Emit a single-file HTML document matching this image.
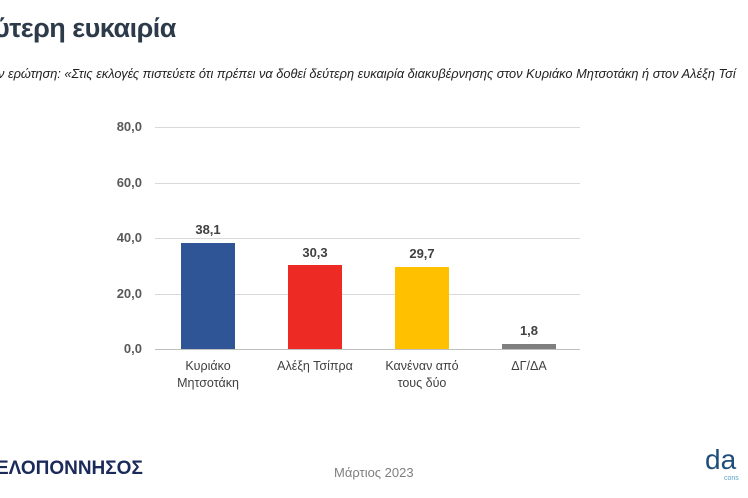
<!DOCTYPE html>
<html><head><meta charset="utf-8"><style>
body{margin:0;width:748px;height:498px;background:#fff;overflow:hidden;position:relative;font-family:"Liberation Sans","Noto Sans CJK SC",sans-serif}
.a{position:absolute;white-space:nowrap}
.g{position:absolute;left:155px;width:425px;height:1px;background:#d9d9d9}
.t{position:absolute;left:100px;width:42px;text-align:right;font-size:13px;font-weight:bold;color:#595959}
.b{position:absolute;width:54px}
.v{position:absolute;width:54px;text-align:center;font-size:13px;font-weight:bold;color:#404040}
.l{position:absolute;width:100px;text-align:center;font-size:12.5px;color:#404040;line-height:17px}
</style></head><body>
<div class="a" style="left:-6px;top:13px;font-size:27px;font-weight:bold;color:#2d3a4a;letter-spacing:-0.5px">ύτερη ευκαιρία</div>
<div class="a" style="left:-2px;top:66px;font-size:12.8px;font-style:italic;color:#222">ν ερώτηση: «Στις εκλογές πιστεύετε ότι πρέπει να δοθεί δεύτερη ευκαιρία διακυβέρνησης στον Κυριάκο Μητσοτάκη ή στον Αλέξη Τσί</div>
<div class="g" style="top:127px"></div><div class="g" style="top:183px"></div><div class="g" style="top:238px"></div><div class="g" style="top:294px"></div><div class="g" style="top:349px;background:#bfbfbf"></div>
<div class="t" style="top:119px">80,0</div><div class="t" style="top:175px">60,0</div><div class="t" style="top:230px">40,0</div><div class="t" style="top:286px">20,0</div><div class="t" style="top:341px">0,0</div>
<div class="b" style="left:181px;top:243px;height:106px;background:#2f5597"></div>
<div class="b" style="left:288px;top:265px;height:84px;background:#ee2a24"></div>
<div class="b" style="left:395px;top:267px;height:82px;background:#ffc000"></div>
<div class="b" style="left:502px;top:344px;height:5px;background:#7f7f7f"></div>
<div class="v" style="left:181px;top:222px">38,1</div>
<div class="v" style="left:288px;top:245px">30,3</div>
<div class="v" style="left:395px;top:246px">29,7</div>
<div class="v" style="left:502px;top:323px">1,8</div>
<div class="l" style="left:158px;top:358px">Κυριάκο<br>Μητσοτάκη</div>
<div class="l" style="left:265px;top:358px">Αλέξη Τσίπρα</div>
<div class="l" style="left:372px;top:358px">Κανέναν από<br>τους δύο</div>
<div class="l" style="left:479px;top:358px">ΔΓ/ΔΑ</div>
<div class="a" style="left:-4px;top:458px;font-size:19px;font-weight:bold;color:#1a2a5a">ΕΛΟΠΟΝΝΗΣΟΣ</div>
<div class="a" style="left:334px;top:465px;font-size:13px;color:#7f7f7f">Μάρτιος 2023</div>
<div class="a" style="left:705px;top:444px;font-size:28px;color:#1f4e79">da</div>
<div class="a" style="left:724px;top:475px;font-size:7px;color:#5ba3c9">cons</div>
</body></html>
